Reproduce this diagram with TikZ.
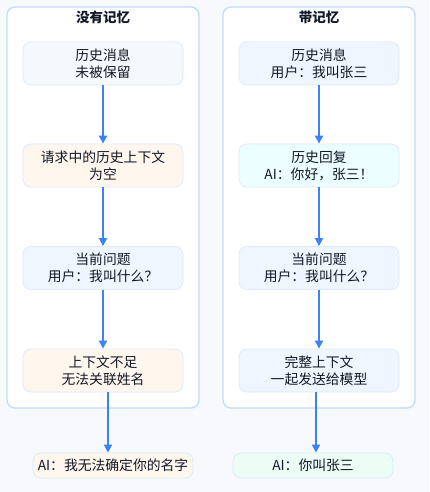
\documentclass[tikz,border=0pt]{standalone}
\usepackage{fontspec}
\setmainfont{Noto Sans CJK SC}
\usetikzlibrary{arrows.meta,calc}
\definecolor{bgc}{HTML}{F7F9FC}
\definecolor{frame}{HTML}{BFDBFE}
\definecolor{bbord}{HTML}{DBEAFE}
\definecolor{fslate}{HTML}{F5F8FC}
\definecolor{forange}{HTML}{FFF7ED}
\definecolor{fblue}{HTML}{EFF6FF}
\definecolor{fcyan}{HTML}{ECFEFF}
\definecolor{fgreen}{HTML}{ECFDF5}
\definecolor{arrc}{HTML}{3B82F6}
\definecolor{txt}{HTML}{111827}
\begin{document}
\begin{tikzpicture}[x=1pt,y=-1pt,
  panel/.style={draw=frame,line width=1.3pt,fill=white,rounded corners=8pt},
  ptitle/.style={font=\fontsize{13.5}{16}\selectfont\bfseries,text=txt},
  stepbox/.style={draw=bbord,line width=0.8pt,rounded corners=8pt,minimum width=160pt,minimum height=43pt,align=center,inner sep=0pt,font=\fontsize{13.8}{17}\selectfont,text=txt},
  outbox/.style={draw=bbord,line width=0.8pt,rounded corners=8pt,minimum width=160pt,minimum height=25pt,align=center,inner sep=0pt,font=\fontsize{13.8}{17}\selectfont,text=txt},
  arr/.style={draw=arrc,line width=1.8pt,-{Triangle[width=8pt,length=8pt]}}]
\fill[bgc] (0,0) rectangle (429,492);
\useasboundingbox (0,0) rectangle (429,492);
\draw[panel] (7,7) rectangle (199,408);
\draw[panel] (223,7) rectangle (415,408);
\node[ptitle] (lt) at (103,17) {没有记忆};
\node[ptitle] (rt) at (319,17) {带记忆};
% left
\node[stepbox,fill=fslate] (l1) at (103,63.5) {历史消息\\未被保留};
\node[stepbox,fill=forange] (l2) at (103,165.5) {请求中的历史上下文\\为空};
\node[stepbox,fill=fblue] (l3) at (103,268) {当前问题\\用户：我叫什么？};
\node[stepbox,fill=forange] (l4) at (103,370.5) {上下文不足\\无法关联姓名};
\node[outbox,fill=forange] (lo) at (113,465.5) {AI：我无法确定你的名字};
% right
\node[stepbox,fill=fblue] (r1) at (319,63.5) {历史消息\\用户：我叫张三};
\node[stepbox,fill=fcyan] (r2) at (319,165.5) {历史回复\\AI：你好，张三！};
\node[stepbox,fill=fblue] (r3) at (319,268) {当前问题\\用户：我叫什么？};
\node[stepbox,fill=fblue] (r4) at (319,370.5) {完整上下文\\一起发送给模型};
\node[outbox,fill=fgreen] (ro) at (313,465.5) {AI：你叫张三};
% arrows
\draw[arr] (l1) -- (l2);
\draw[arr] (l2) -- (l3);
\draw[arr] (l3) -- (l4);
\draw[arr] (r1) -- (r2);
\draw[arr] (r2) -- (r3);
\draw[arr] (r3) -- (r4);
\coordinate (lm) at ($(l4.south)!.5!(lo.north)$);
\coordinate (rm) at ($(r4.south)!.5!(ro.north)$);
\draw[arr] (lm |- l4.south) -- (lm |- lo.north);
\draw[arr] (rm |- r4.south) -- (rm |- ro.north);
\end{tikzpicture}
\end{document}
